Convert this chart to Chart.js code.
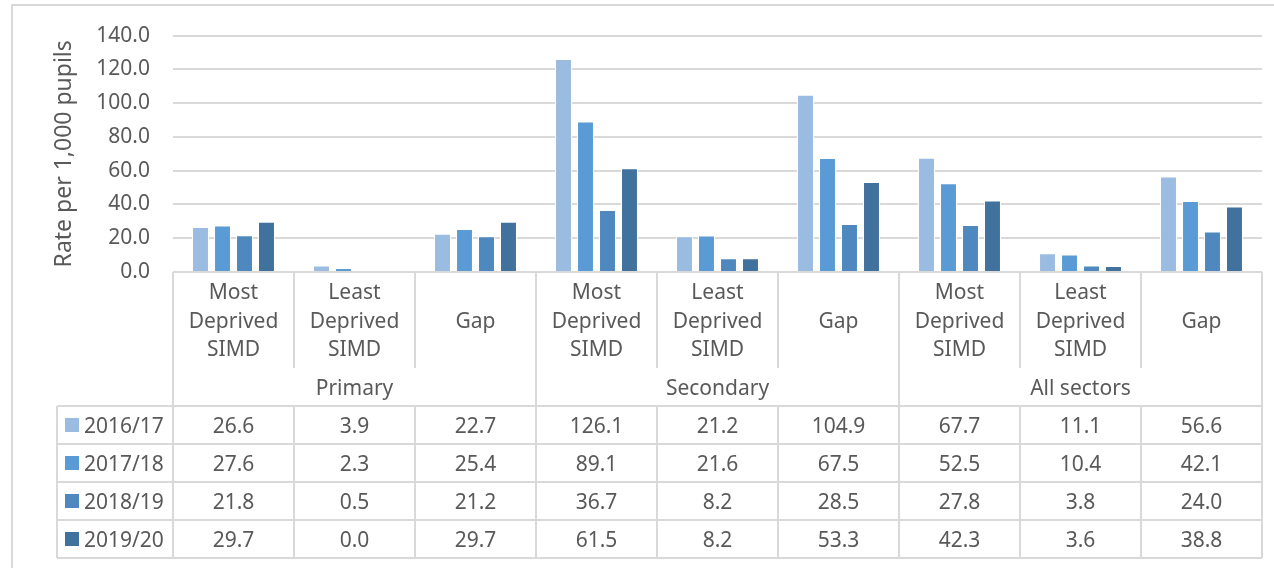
<!DOCTYPE html>
<html>
<head>
<meta charset="utf-8">
<title>Rate per 1,000 pupils</title>
<script src="https://cdn.jsdelivr.net/npm/chart.js@4/dist/chart.umd.min.js"></script>
<style>
    body { margin: 0; background: #fff; }
    canvas { display: block; }
</style>
</head>
<body>
<canvas id="myChart" width="1274" height="568"></canvas>
<script>
// data
var categories = [
    ['Most', 'Deprived', 'SIMD'], ['Least', 'Deprived', 'SIMD'], ['Gap'],
    ['Most', 'Deprived', 'SIMD'], ['Least', 'Deprived', 'SIMD'], ['Gap'],
    ['Most', 'Deprived', 'SIMD'], ['Least', 'Deprived', 'SIMD'], ['Gap']
];
var groups = ['Primary', 'Secondary', 'All sectors'];
var seriesNames = ['2016/17', '2017/18', '2018/19', '2019/20'];
var values1617 = [26.6, 3.9, 22.7, 126.1, 21.2, 104.9, 67.7, 11.1, 56.6];
var values1718 = [27.6, 2.3, 25.4, 89.1, 21.6, 67.5, 52.5, 10.4, 42.1];
var values1819 = [21.8, 0.5, 21.2, 36.7, 8.2, 28.5, 27.8, 3.8, 24.0];
var values1920 = [29.7, 0.0, 29.7, 61.5, 8.2, 53.3, 42.3, 3.6, 38.8];
var yTicks = [0, 20, 40, 60, 80, 100, 120, 140];

var colors = ['#9BBCE1', '#5B9BD5', '#4E88BF', '#41719D'];
var textColor = '#595959';
var lineColor = '#D9D9D9';
var font = '"Noto Sans", sans-serif';

// draws the frame, category axis and data table under the bars
var tablePlugin = {
    id: 'dataTable',
    beforeDraw: function(chart) {
        var c = chart.ctx;
        c.save();
        c.strokeStyle = lineColor;
        c.lineWidth = 2;
        c.strokeRect(12, 5, 1300, 600);
        c.restore();
    },
    afterDraw: function(chart) {
        var c = chart.ctx;
        var xs = chart.scales.x;
        var area = chart.chartArea;
        var n = categories.length;
        var w = xs.width / n;
        var y0 = area.bottom;
        var catBottom = y0 + 96;
        var grpBottom = y0 + 134;
        var rowH = 38;
        var legendLeft = 57;
        var edge = function(i) { return xs.getPixelForValue(i) - w / 2; };
        var capText = function(txt, x, yMid) {
            c.fillText(txt, x, yMid + 7.5);
        };

        c.save();
        c.strokeStyle = lineColor;
        c.lineWidth = 2;

        // axis box
        c.beginPath();
        c.moveTo(area.left, y0);
        c.lineTo(area.right, y0);
        for (var i = 0; i <= n; i++) {
            var x = Math.round(edge(i));
            c.moveTo(x, y0);
            c.lineTo(x, i % 3 === 0 ? grpBottom : catBottom);
        }
        // table rows
        for (var r = 0; r <= seriesNames.length; r++) {
            var y = grpBottom + r * rowH;
            c.moveTo(legendLeft, y);
            c.lineTo(area.right, y);
        }
        var tableBottom = grpBottom + seriesNames.length * rowH;
        c.moveTo(legendLeft, grpBottom);
        c.lineTo(legendLeft, tableBottom);
        for (var i = 0; i <= n; i++) {
            var x = Math.round(edge(i));
            c.moveTo(x, grpBottom);
            c.lineTo(x, tableBottom);
        }
        c.stroke();

        // category labels
        c.fillStyle = textColor;
        c.font = '21px ' + font;
        c.textAlign = 'center';
        c.textBaseline = 'alphabetic';
        for (var i = 0; i < n; i++) {
            var cx = xs.getPixelForValue(i);
            var lines = categories[i];
            var start = y0 + 48 - (lines.length - 1) * 28.5 / 2;
            for (var k = 0; k < lines.length; k++) {
                capText(lines[k], cx, start + k * 28.5);
            }
        }
        for (var g = 0; g < groups.length; g++) {
            var gx = (edge(g * 3) + edge(g * 3 + 3)) / 2;
            capText(groups[g], gx, y0 + 115);
        }

        // table values
        var data = chart.data.datasets;
        for (var r = 0; r < data.length; r++) {
            var yMid = grpBottom + r * rowH + rowH / 2;
            c.fillStyle = colors[r];
            c.fillRect(65, yMid - 7, 14, 14);
            c.fillStyle = textColor;
            c.textAlign = 'left';
            capText(data[r].label, 84, yMid);
            c.textAlign = 'center';
            for (var i = 0; i < n; i++) {
                capText(data[r].data[i].toFixed(1), xs.getPixelForValue(i), yMid);
            }
        }
        c.restore();
    }
};

var ctx = document.getElementById('myChart').getContext('2d');
var chart = new Chart(ctx, {
    // The type of chart we want to create
    type: 'bar',

    // The data for our dataset
    data: {
        labels: categories,
        datasets: [
            { label: seriesNames[0], data: values1617, backgroundColor: colors[0] },
            { label: seriesNames[1], data: values1718, backgroundColor: colors[1] },
            { label: seriesNames[2], data: values1819, backgroundColor: colors[2] },
            { label: seriesNames[3], data: values1920, backgroundColor: colors[3] }
        ]
    },

    // Configuration options go here
    options: {
        responsive: false,
        animation: false,
        devicePixelRatio: 1,
        layout: { padding: { left: 0, right: 12, top: 33, bottom: 296 } },
        datasets: {
            bar: {
                categoryPercentage: 0.727,
                barPercentage: 0.77,
                borderColor: '#ffffff',
                borderWidth: 1
            }
        },
        plugins: {
            legend: { display: false },
            tooltip: { enabled: false }
        },
        scales: {
            x: { display: false },
            y: {
                min: 0,
                max: 140,
                afterFit: function(scale) { scale.width = 173; },
                afterBuildTicks: function(scale) {
                    scale.ticks = yTicks.map(function(v) { return { value: v }; });
                },
                border: { display: false },
                grid: { color: lineColor, lineWidth: 2, drawTicks: false },
                ticks: {
                    padding: 23,
                    color: textColor,
                    font: { family: font, size: 21 },
                    callback: function(v) { return Number(v).toFixed(1); }
                },
                title: {
                    display: true,
                    text: 'Rate per 1,000 pupils',
                    color: textColor,
                    font: { family: font, size: 23 },
                    padding: { top: 51, bottom: 0 }
                }
            }
        }
    },
    plugins: [tablePlugin]
});
</script>
</body>
</html>
